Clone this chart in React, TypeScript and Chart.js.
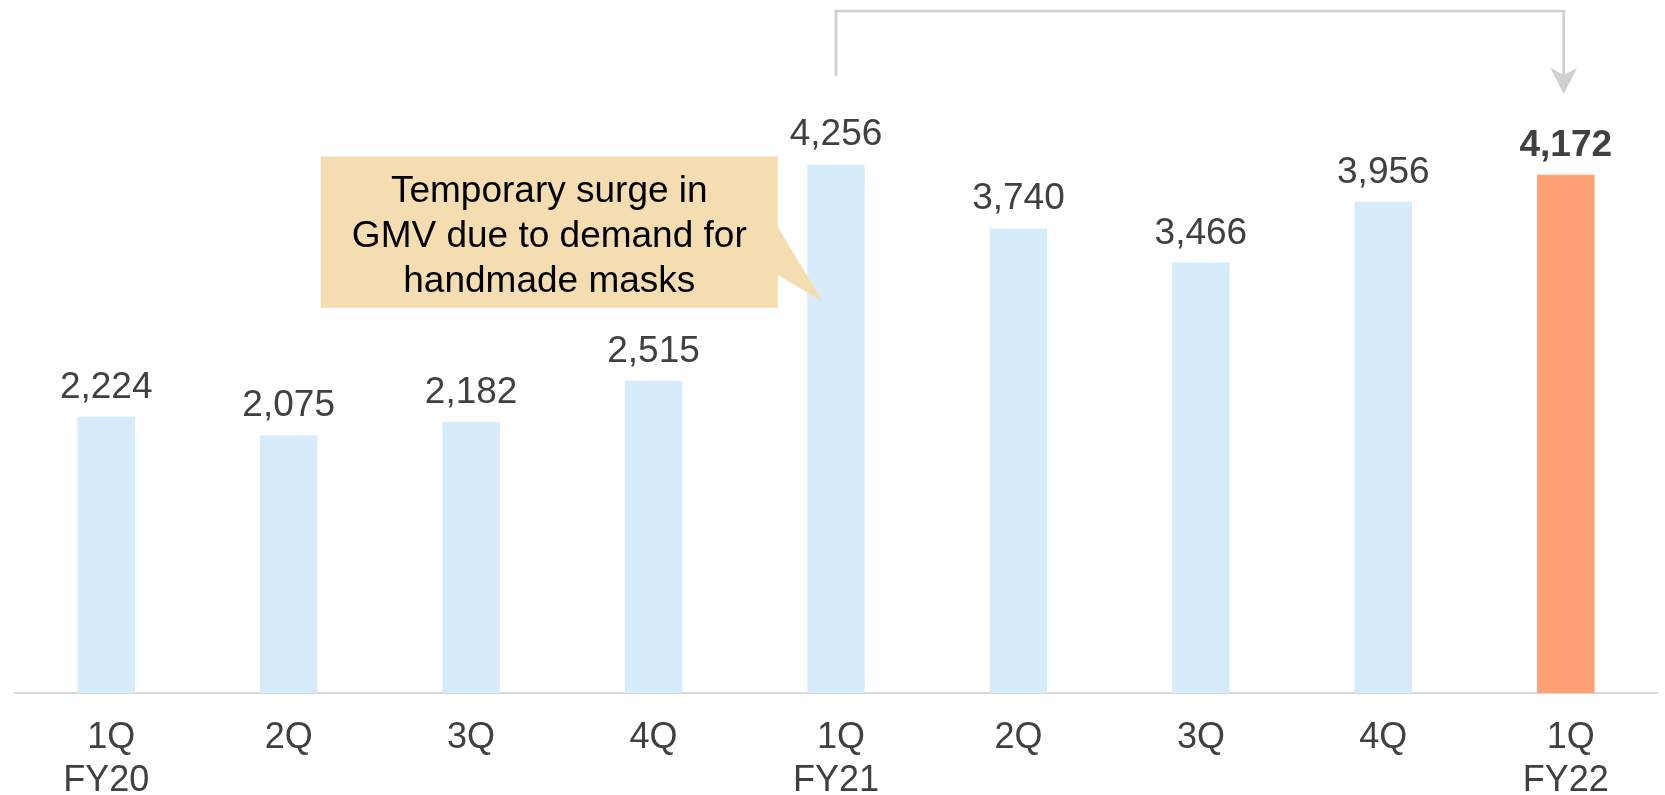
import { useEffect, useRef } from "react";
import { Chart, registerables } from "chart.js";

Chart.register(...registerables);

// ---- data ----
const quarters = [" 1Q", "2Q", "3Q", "4Q", " 1Q", "2Q", "3Q", "4Q", " 1Q"];
const fiscalYears = ["FY20", "", "", "", "FY21", "", "", "", "FY22"];
const gmv = [2224, 2075, 2182, 2515, 4256, 3740, 3466, 3956, 4172];
const highlightIndex = 8;
const calloutLines = ["Temporary surge in", "GMV due to demand for", "handmade masks"];
const bracketFrom = 4;
const bracketTo = 8;

// ---- styles ----
const FONT = '"Liberation Sans", Arial, Helvetica, sans-serif';
const BLUE = "#d6ecfb";
const ORANGE = "#ff9f74";
const LABEL = "#404040";
const GREY_LINE = "#d0d0d0";
const CALLOUT_FILL = "#f4ddb1";

const overlay = {
  id: "overlay",
  afterDatasetsDraw(chart: any) {
    const { ctx, chartArea } = chart;
    const x = chart.scales.x;
    const y = chart.scales.y;
    const meta = chart.getDatasetMeta(0);
    ctx.save();

    // data labels
    ctx.textAlign = "center";
    ctx.textBaseline = "alphabetic";
    meta.data.forEach((el: any, i: number) => {
      ctx.fillStyle = LABEL;
      ctx.font = `${i === highlightIndex ? "bold " : ""}37px ${FONT}`;
      ctx.fillText(gmv[i].toLocaleString("en-US"), el.x, el.y - 19);
    });

    // callout box
    const bl = x.getPixelForValue(1.176);
    const br = x.getPixelForValue(3.681);
    const bt = y.getPixelForValue(4319);
    const bb = y.getPixelForValue(3102);
    const t1 = y.getPixelForValue(3752);
    const t2 = y.getPixelForValue(3366);
    const tipX = x.getPixelForValue(3.928);
    const tipY = y.getPixelForValue(3151);
    ctx.fillStyle = CALLOUT_FILL;
    ctx.beginPath();
    ctx.moveTo(bl, bt);
    ctx.lineTo(br, bt);
    ctx.lineTo(br, t1);
    ctx.lineTo(tipX, tipY);
    ctx.lineTo(br, t2);
    ctx.lineTo(br, bb);
    ctx.lineTo(bl, bb);
    ctx.closePath();
    ctx.fill();
    ctx.fillStyle = "#000";
    ctx.font = `37px ${FONT}`;
    const cx = (bl + br) / 2;
    calloutLines.forEach((line, i) => {
      ctx.fillText(line, cx, bt + 45 + i * 45);
    });

    // bracket arrow
    const x1 = x.getPixelForValue(bracketFrom);
    const x2 = x.getPixelForValue(bracketTo) - 2;
    const topY = chartArea.top - 61;
    const leftBottom = chartArea.top + 4;
    const tip = chartArea.top + 22;
    ctx.strokeStyle = GREY_LINE;
    ctx.lineWidth = 2.7;
    ctx.beginPath();
    ctx.moveTo(x1, leftBottom);
    ctx.lineTo(x1, topY);
    ctx.lineTo(x2, topY);
    ctx.lineTo(x2, tip - 14);
    ctx.stroke();
    ctx.fillStyle = GREY_LINE;
    ctx.beginPath();
    ctx.moveTo(x2, tip);
    ctx.lineTo(x2 - 13.3, tip - 26);
    ctx.lineTo(x2, tip - 19);
    ctx.lineTo(x2 + 13.3, tip - 26);
    ctx.closePath();
    ctx.fill();

    ctx.restore();
  },
};

export default function App() {
  const ref = useRef<HTMLCanvasElement>(null);
  useEffect(() => {
    const chart = new Chart(ref.current as HTMLCanvasElement, {
      type: "bar",
      data: {
        labels: quarters.map((q, i) => (fiscalYears[i] ? [q, fiscalYears[i]] : [q])),
        datasets: [
          {
            data: gmv,
            backgroundColor: gmv.map((_, i) => (i === highlightIndex ? ORANGE : BLUE)),
            barPercentage: 0.315,
            categoryPercentage: 1,
          },
        ],
      },
      options: {
        responsive: false,
        animation: false,
        devicePixelRatio: 1,
        layout: { padding: { left: 15, right: 8, top: 72, bottom: 0 } },
        plugins: { legend: { display: false }, tooltip: { enabled: false } },
        scales: {
          x: {
            grid: { display: false, drawTicks: false },
            border: { display: true, color: "#d9d9d9", width: 2 },
            ticks: {
              color: LABEL,
              font: { family: FONT, size: 36 },
              padding: 23,
              maxRotation: 0,
              autoSkip: false,
            },
            afterFit: (s: any) => {
              s.height = 102;
            },
          },
          y: { display: false, min: 0, max: 5000 },
        },
      } as any,
      plugins: [overlay],
    });
    return () => chart.destroy();
  }, []);
  return (
    <div
      style={{
        position: "fixed",
        left: 0,
        top: 0,
        width: 1665,
        height: 795,
        overflow: "hidden",
        background: "#fff",
      }}
    >
      <canvas ref={ref} width={1665} height={795} style={{ display: "block" }} />
    </div>
  );
}
